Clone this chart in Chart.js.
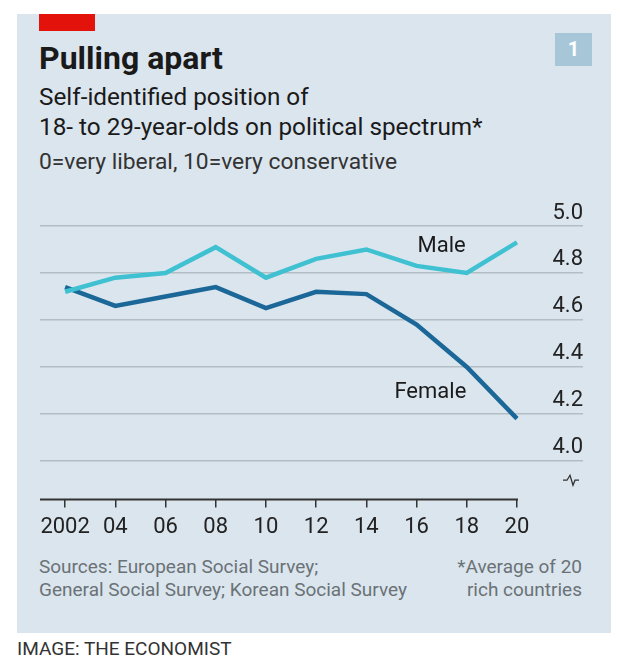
<!DOCTYPE html>
<html>
<head>
<meta charset="utf-8">
<script src="https://cdn.jsdelivr.net/npm/chart.js@4.4.1/dist/chart.umd.min.js"></script>
<style>
  html, body { margin: 0; padding: 0; background: #fff; }
  body { width: 620px; height: 667px; position: relative; overflow: hidden; font-family: Roboto, "Noto Sans", sans-serif; }
  .panel { position: absolute; left: 17px; top: 14px; width: 594px; height: 619px; background: #dae5ee; }
  .redbar { position: absolute; left: 39px; top: 14px; width: 56px; height: 17px; background: #e3120b; }
  .badge { position: absolute; left: 555px; top: 33px; width: 37px; height: 33px; background: #a7c6d8; color: #fff; font-weight: bold; font-size: 20px; text-align: center; line-height: 33px; }
  .txt { position: absolute; left: 39px; white-space: nowrap; color: #1a1a1a; }
  .title { top: 39px; font-size: 32px; line-height: 38px; font-weight: bold; }
  .sub { top: 82px; font-size: 24.3px; line-height: 30px; }
  .note { top: 148px; font-size: 22.8px; line-height: 28px; color: #333; }
  .src { top: 555px; font-size: 19px; line-height: 23px; color: #6b7276; }
  .fn { left: auto; right: 38px; text-align: right; }
  .credit { position: absolute; left: 17px; top: 637px; font-size: 19px; color: #333; }
  canvas { position: absolute; left: 0; top: 0; }
</style>
</head>
<body>
<div class="panel"></div>
<div class="redbar"></div>
<div class="badge">1</div>
<div class="txt title">Pulling apart</div>
<div class="txt sub">Self-identified position of<br>18- to 29-year-olds on political spectrum*</div>
<div class="txt note">0=very liberal, 10=very conservative</div>
<div class="txt src">Sources: European Social Survey;<br>General Social Survey; Korean Social Survey</div>
<div class="txt src fn">*Average of 20<br>rich countries</div>
<div class="credit">IMAGE: THE ECONOMIST</div>
<canvas id="chart" width="620" height="667"></canvas>
<script>
// survey years and average self-placement (0-10 scale)
const years = [2002, 2004, 2006, 2008, 2010, 2012, 2014, 2016, 2018, 2020];
const male = [4.72, 4.78, 4.80, 4.91, 4.78, 4.86, 4.90, 4.83, 4.80, 4.93];
const female = [4.74, 4.66, 4.70, 4.74, 4.65, 4.72, 4.71, 4.58, 4.40, 4.18];
const yTicks = [4.0, 4.2, 4.4, 4.6, 4.8, 5.0];

// line labels, placed in data coordinates
const lineLabels = [
    { text: 'Male', x: 2017.0, y: 4.914 },
    { text: 'Female', x: 2016.55, y: 4.29 }
];

const toPoints = (vals) => vals.map((v, i) => ({ x: years[i], y: v }));

const annotate = {
    id: 'annotate',
    afterDatasetsDraw(chart) {
        const { ctx, scales: { x, y }, chartArea } = chart;
        ctx.save();
        // x axis baseline, only under the data range
        ctx.strokeStyle = '#333';
        ctx.lineWidth = 2;
        ctx.beginPath();
        ctx.moveTo(x.getPixelForValue(2001), chartArea.bottom);
        ctx.lineTo(x.getPixelForValue(years[years.length - 1]) + 1, chartArea.bottom);
        ctx.stroke();

        // broken-axis squiggle
        const bx = chartArea.right - 12;
        const by = (y.getPixelForValue(yTicks[0]) + chartArea.bottom) / 2;
        ctx.lineWidth = 1.3;
        ctx.beginPath();
        ctx.moveTo(bx - 8, by);
        ctx.lineTo(bx - 4, by);
        ctx.lineTo(bx - 1, by - 5);
        ctx.lineTo(bx + 2, by + 5);
        ctx.lineTo(bx + 4, by);
        ctx.lineTo(bx + 8, by);
        ctx.stroke();

        ctx.fillStyle = '#1a1a1a';
        ctx.font = '22px Roboto, "Noto Sans", sans-serif';
        ctx.textAlign = 'center';
        ctx.textBaseline = 'middle';
        lineLabels.forEach(l => {
            ctx.fillText(l.text, x.getPixelForValue(l.x), y.getPixelForValue(l.y));
        });
        ctx.restore();
    }
};

new Chart(document.getElementById('chart'), {
    type: 'line',
    data: {
        datasets: [
            { label: 'Male', data: toPoints(male), borderColor: '#3fc1d2', borderWidth: 4.5 },
            { label: 'Female', data: toPoints(female), borderColor: '#1b6898', borderWidth: 4.5 }
        ]
    },
    options: {
        responsive: false,
        animation: false,
        events: [],
        layout: { padding: { left: 40, top: 226, right: 37, bottom: 119 } },
        elements: {
            point: { radius: 0 },
            line: { tension: 0, borderCapStyle: 'butt', borderJoinStyle: 'miter' }
        },
        plugins: { legend: { display: false }, tooltip: { enabled: false } },
        scales: {
            x: {
                type: 'linear',
                min: 2001,
                max: 2022.63,
                afterBuildTicks: (axis) => { axis.ticks = years.map(v => ({ value: v })); },
                grid: { drawOnChartArea: false, drawTicks: true, tickLength: 8, color: '#333', lineWidth: 1.5 },
                border: { display: false },
                ticks: {
                    color: '#222',
                    padding: 7,
                    maxRotation: 0,
                    autoSkip: false,
                    font: { family: 'Roboto', size: 22 },
                    callback: (v) => v === 2002 ? '2002' : String(v).slice(2)
                }
            },
            y: {
                position: 'right',
                min: 3.835,
                max: 5.0,
                afterBuildTicks: (axis) => { axis.ticks = yTicks.map(v => ({ value: v })); },
                grid: { drawTicks: false, color: '#b2bec6', lineWidth: 1.5 },
                border: { display: false },
                ticks: {
                    mirror: true,
                    padding: 0,
                    labelOffset: -13,
                    color: '#222',
                    font: { family: 'Roboto', size: 22 },
                    callback: (v) => v.toFixed(1)
                }
            }
        }
    },
    plugins: [annotate]
});
</script>
</body>
</html>
